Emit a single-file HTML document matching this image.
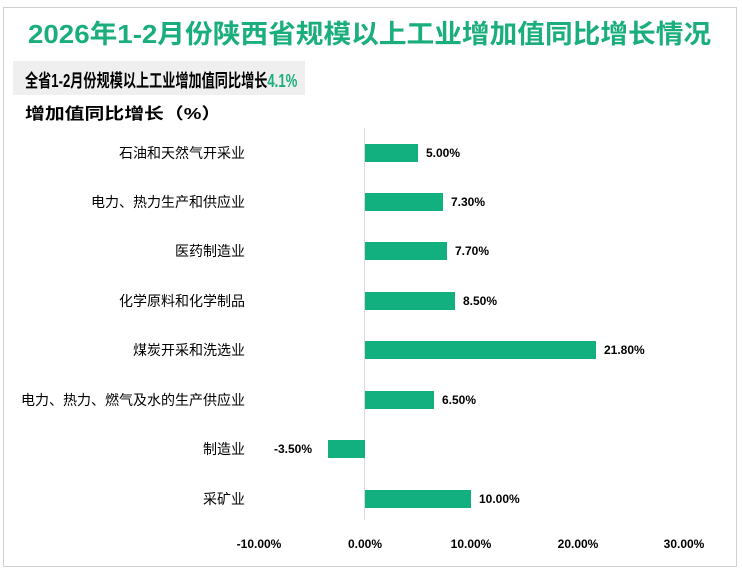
<!DOCTYPE html>
<html><head><meta charset="utf-8"><style>
body{margin:0;width:742px;height:571px;background:#fff;position:relative;overflow:hidden;font-family:"Liberation Sans","Noto Sans CJK SC",sans-serif}
.frame{position:absolute;left:3px;top:7px;width:734px;height:560px;border:1px solid #d0d0d0;box-sizing:border-box}
.t{position:absolute;white-space:nowrap;transform-origin:0 50%}
.bar{position:absolute;height:18px;background:#12b07f}
.lab{position:absolute;right:497px;font-size:14px;color:#000;white-space:nowrap;transform:translateY(-50%)}
.val{position:absolute;font-size:12px;font-weight:bold;color:#000;transform:translateY(-50%)}
.tick{position:absolute;top:537px;font-size:12px;font-weight:bold;transform:translateX(-50%)}
</style></head><body>
<div class="frame"></div>
<div class="t" style="left:28px;top:14px;font-size:26px;font-weight:bold;color:#1aae7c;transform:scaleX(1.065)">2026年1-2月份陕西省规模以上工业增加值同比增长情况</div>
<div style="position:absolute;left:13px;top:61px;width:292px;height:34px;background:#efefef"></div>
<div class="t" style="left:25px;top:67px;font-size:18px;font-weight:bold;color:#000;transform:scaleX(0.73)">全省1-2月份规模以上工业增加值同比增长<span style="color:#1aae7c">4.1%</span></div>
<div class="t" style="left:25px;top:100px;font-size:16px;font-weight:bold;color:#000;transform:scaleX(1.24)">增加值同比增长（%）</div>
<div style="position:absolute;left:364px;top:128px;width:1px;height:392px;background:#d9d9d9"></div>

<div class="lab" style="top:153px">石油和天然气开采业</div>
<div class="bar" style="left:365px;top:144px;width:53px"></div>
<div class="val" style="left:426px;top:153px">5.00%</div>

<div class="lab" style="top:202px">电力、热力生产和供应业</div>
<div class="bar" style="left:365px;top:193px;width:78px"></div>
<div class="val" style="left:451px;top:202px">7.30%</div>

<div class="lab" style="top:251px">医药制造业</div>
<div class="bar" style="left:365px;top:242px;width:82px"></div>
<div class="val" style="left:455px;top:251px">7.70%</div>

<div class="lab" style="top:301px">化学原料和化学制品</div>
<div class="bar" style="left:365px;top:292px;width:90px"></div>
<div class="val" style="left:463px;top:301px">8.50%</div>

<div class="lab" style="top:350px">煤炭开采和洗选业</div>
<div class="bar" style="left:365px;top:341px;width:231px"></div>
<div class="val" style="left:604px;top:350px">21.80%</div>

<div class="lab" style="top:400px">电力、热力、燃气及水的生产供应业</div>
<div class="bar" style="left:365px;top:391px;width:69px"></div>
<div class="val" style="left:442px;top:400px">6.50%</div>

<div class="lab" style="top:449px">制造业</div>
<div class="bar" style="left:328px;top:440px;width:37px"></div>
<div class="val" style="left:274px;top:449px">-3.50%</div>

<div class="lab" style="top:499px">采矿业</div>
<div class="bar" style="left:365px;top:490px;width:106px"></div>
<div class="val" style="left:479px;top:499px">10.00%</div>

<div class="tick" style="left:259px">-10.00%</div>
<div class="tick" style="left:365px">0.00%</div>
<div class="tick" style="left:471px">10.00%</div>
<div class="tick" style="left:578px">20.00%</div>
<div class="tick" style="left:684px">30.00%</div>
</body></html>
